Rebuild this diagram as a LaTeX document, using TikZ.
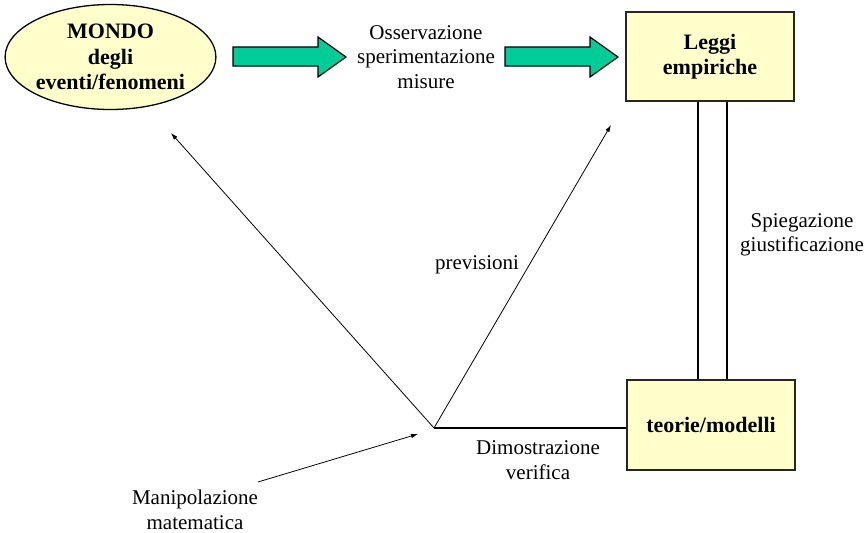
\documentclass[tikz,border=0pt]{standalone}
\usepackage{fontspec}
\setmainfont{Liberation Serif}
\usetikzlibrary{shapes.geometric,arrows.meta,calc}
\definecolor{paleyellow}{RGB}{255,255,204}
\definecolor{flowgreen}{RGB}{0,204,153}
\begin{document}
\begin{tikzpicture}[x=1pt,y=-1pt,
  txt/.style={font=\fontsize{21}{24.5}\selectfont, align=center, inner sep=0pt},
  boldtxt/.style={txt, font=\fontsize{22}{25.5}\selectfont\bfseries},
  world/.style={ellipse, draw=black, line width=1.3pt, fill=paleyellow,
    minimum width=201pt, minimum height=105pt, inner sep=0pt, boldtxt},
  panel/.style={rectangle, draw=black!85, line width=1.3pt, fill=paleyellow,
    minimum width=168pt, minimum height=89pt, inner sep=0pt, boldtxt},
  link/.style={line width=0.8pt, -{Latex[length=7pt,width=4.5pt]}},
  bigarrow/.style={fill=flowgreen, draw=black, line width=1.2pt, line join=miter}
]
\useasboundingbox (0,0) rectangle (868,533);

% main blocks
\node[world] (mondo) at (110.5,57) {MONDO\\degli\\eventi/fenomeni};
\node[panel] (leggi) at (710,56.5) {Leggi\\empiriche};
\node[panel, minimum height=90pt] (teorie) at (711,425) {teorie/modelli};

% broad green arrows
\draw[bigarrow] (233,47) -- (318,47) -- (318,37) -- (346,57) -- (318,77) -- (318,66) -- (233,66) -- cycle;
\draw[bigarrow] (505,47) -- (590,47) -- (590,37) -- (618,57) -- (590,77) -- (590,66) -- (505,66) -- cycle;

% labels
\node[txt] (oss) at (426,57) {Osservazione\\sperimentazione\\misure};
\node[txt] (prev) at (477,265) {previsioni};
\node[txt] (dim) at (538,460) {Dimostrazione\\verifica};
\node[txt] (spieg) at (802,235) {Spiegazione\\giustificazione};
\node[txt] (manip) at (195,510) {Manipolazione\\matematica};

% junction point and arrow ends
\coordinate (V) at (434,428);
\coordinate (tipL) at (171,133);
\coordinate (tipR) at (611,125);
\coordinate (mstart) at (258,482);
\coordinate (mtip) at (418,434);

% connectors
\draw[link] (V) -- (tipL);
\draw[link] (V) -- (tipR);
\draw[link] (mstart) -- (mtip);
\draw[line width=1.6pt] (V) -- (V -| teorie.west);
\draw[line width=1.2pt] ($(leggi.south)+(-12,0)$) -- ($(teorie.north)+(-13,0)$);
\draw[line width=1.2pt] ($(leggi.south)+(17,0)$) -- ($(teorie.north)+(16,0)$);
\end{tikzpicture}
\end{document}
